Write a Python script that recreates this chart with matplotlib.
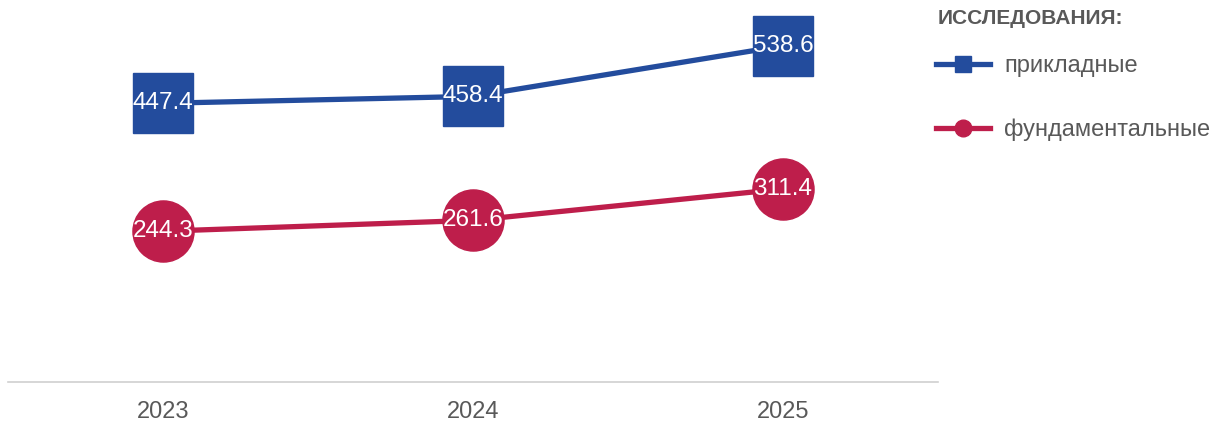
import matplotlib
matplotlib.use("Agg")
import matplotlib.pyplot as plt

plt.rcParams['font.family'] = ['Liberation Sans', 'DejaVu Sans']

years = ['2023', '2024', '2025']
applied = [447.4, 458.4, 538.6]
fundamental = [244.3, 261.6, 311.4]
series_names = ['прикладные', 'фундаментальные']
legend_title = 'ИССЛЕДОВАНИЯ:'

blue = '#234C9D'
red = '#BE1E4B'
grey = '#595959'

fig = plt.figure(figsize=(12.27, 4.24), dpi=100)
ax = fig.add_axes([8/1227, 42/424, 930/1227, 378/424])

x = range(len(years))
ax.plot(x, applied, color=blue, lw=3.8, marker='s', markersize=43, zorder=3)
ax.plot(x, fundamental, color=red, lw=3.8, marker='o', markersize=44, zorder=3)

for xi, v in zip(x, applied):
    ax.text(xi, v, f'{v:.1f}', color='white', fontsize=17.5, ha='center', va='center', zorder=4)
for xi, v in zip(x, fundamental):
    ax.text(xi, v, f'{v:.1f}', color='white', fontsize=17.5, ha='center', va='center', zorder=4)

ax.set_xlim(-0.5, 2.5)
ax.set_ylim(5, 605)
ax.set_xticks(list(x))
ax.set_xticklabels(years, fontsize=17, color=grey)
ax.tick_params(axis='x', length=0, pad=14)
ax.set_yticks([])
for s in ['top', 'right', 'left']:
    ax.spines[s].set_visible(False)
ax.spines['bottom'].set_color('#D0D0D0')
ax.spines['bottom'].set_linewidth(1.2)

fig.text(938/1227, 1 - 18/424, legend_title, fontsize=15, fontweight='bold', color=grey,
         ha='left', va='center')

h1 = plt.Line2D([], [], color=blue, lw=3.8, marker='s', markersize=11)
h2 = plt.Line2D([], [], color=red, lw=3.8, marker='o', markersize=12)
leg = fig.legend([h1, h2], series_names, loc='upper left', bbox_to_anchor=(936/1227, 1 - 55/424),
                 frameon=False, fontsize=17, handlelength=2.3, handletextpad=0.6,
                 labelspacing=1.75, borderaxespad=0, borderpad=0)
for t in leg.get_texts():
    t.set_color(grey)

fig.savefig('out.png', dpi=100)
